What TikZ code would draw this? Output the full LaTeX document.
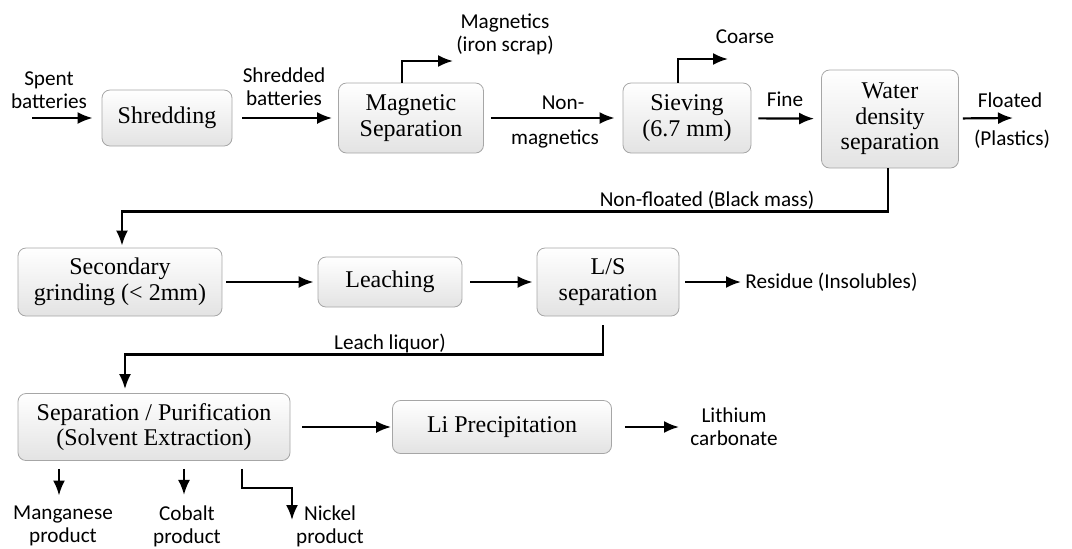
\documentclass[tikz,border=0pt]{standalone}
\usepackage{fontspec}
\usetikzlibrary{arrows.meta}
\setmainfont{Liberation Serif}
\newfontfamily\lblfont{Carlito}
\begin{document}
\begin{tikzpicture}[x=0.5pt,y=-0.5pt,
		box/.style={draw=gray!70,rounded corners=4pt,top color=white,bottom color=gray!22,
			align=center,inner sep=2pt,font=\fontsize{12}{12.8}\selectfont},
		lnode/.style={align=center,inner sep=1pt,font=\lblfont\fontsize{10.6}{11.6}\selectfont},
		flow/.style={-{Latex[length=7.5pt,width=6pt]},line width=1.1pt}]
	\useasboundingbox (0,0) rectangle (1072,548);
	% process boxes
	\node[box,minimum width=65pt,minimum height=28pt] (shred) at (167,118) {Shredding};
	\node[box,minimum width=72.5pt,minimum height=35pt] (magsep) at (411,118) {Magnetic\\Separation};
	\node[box,minimum width=64pt,minimum height=35pt] (sieve) at (687,118) {Sieving\\(6.7 mm)};
	\node[box,minimum width=68.5pt,minimum height=49pt] (water) at (890,119) {Water\\density\\separation};
	\node[box,minimum width=102pt,minimum height=34pt] (grind) at (120,282) {Secondary\\grinding (< 2mm)};
	\node[box,minimum width=72pt,minimum height=25pt] (leach) at (390,282) {Leaching};
	\node[box,minimum width=71pt,minimum height=34pt] (ls) at (608,282) {L/S\\separation};
	\node[box,minimum width=136pt,minimum height=33.5pt] (purif) at (154,427) {Separation / Purification\\(Solvent Extraction)};
	\node[box,minimum width=109.5pt,minimum height=26.5pt] (liprec) at (502,427) {Li Precipitation};
	% stream labels
	\node[lnode] (spent) at (49,90) {Spent\\batteries};
	\node[lnode] (shredded) at (284,87) {Shredded\\batteries};
	\node[lnode] (magn) at (505,34) {Magnetics\\(iron scrap)};
	\node[lnode] (nonm) at (563,103) {Non-};
	\node[lnode] (nonmb) at (555,139) {magnetics};
	\node[lnode] (coarse) at (745,37) {Coarse};
	\node[lnode] (fine) at (785,99) {Fine};
	\node[lnode] (flt) at (1010,100) {Floated};
	\node[lnode] (pls) at (1012,139) {(Plastics)};
	\node[lnode] (black) at (707,200) {Non-floated (Black mass)};
	\node[lnode] (liquor) at (390,343) {Leach liquor)};
	\node[lnode,anchor=west] (res) at (743,282) {Residue (Insolubles)};
	\node[lnode] (lico) at (734,427) {Lithium\\carbonate};
	\node[lnode] (mn) at (63,526) {Manganese\\product};
	\node[lnode] (co) at (187,526) {Cobalt\\product};
	\node[lnode] (ni) at (330,526) {Nickel\\product};
	% free ends
	\coordinate (in) at (32,118);
	\coordinate (magout) at (453,61);
	\coordinate (crsout) at (728,59);
	\coordinate (fltout) at (1013,118);
	\coordinate (niin) at (292,520);
	% connectors
	\draw[flow,shorten >=4.5pt] (in) -- (shred);
	\draw[flow,shorten <=5pt,shorten >=3pt] (shred) -- (magsep);
	\draw[flow] ([xshift=-4.5pt]magsep.north) |- (magout);
	\draw[flow,shorten <=3.5pt,shorten >=4pt] (magsep) -- (sieve);
	\draw[flow] ([xshift=-4.5pt]sieve.north) |- (crsout);
	\draw[flow,shorten <=3.5pt,shorten >=3.5pt] (sieve) -- (water);
	\draw[flow,shorten <=2pt] (water) -- (fltout);
	\draw[flow,shorten >=1pt] ([xshift=-1pt]water.south) -- ++(0,43) -| ([xshift=1pt]grind.north);
	\draw[flow,shorten <=2pt,shorten >=2pt] (grind) -- (leach);
	\draw[flow,shorten <=4pt,shorten >=2pt] (leach) -- (ls);
	\draw[flow,shorten <=3pt,shorten >=1pt] (ls) -- (res);
	\draw[flow,shorten <=4.5pt,shorten >=2pt] ([xshift=-2.5pt]ls.south) -- ++(0,38) -| ([xshift=-14.5pt]purif.north);
	\draw[flow,shorten <=6pt,shorten >=0.5pt] (purif) -- (liprec);
	\draw[flow,shorten <=6.5pt,shorten >=4.5pt] (liprec) -- (lico);
	\draw[flow,shorten <=4pt,shorten >=4pt] ([xshift=-2pt]mn.north |- purif.south) -- ([xshift=-2pt]mn.north);
	\draw[flow,shorten <=4pt,shorten >=4pt] ([xshift=-1.5pt]co.north |- purif.south) -- ([xshift=-1.5pt]co.north);
	\draw[flow,shorten <=4pt] ([xshift=44pt]purif.south) -- ++(0,27) -| (niin);
\end{tikzpicture}
\end{document}
